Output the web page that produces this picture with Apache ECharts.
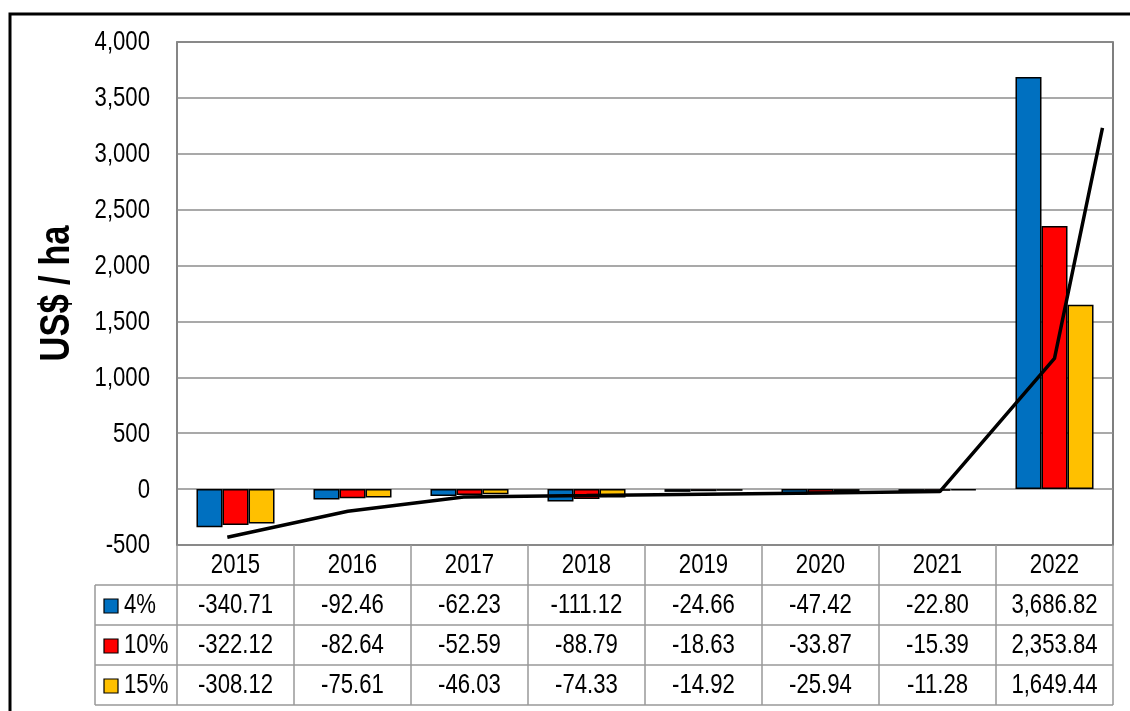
<!DOCTYPE html>
<html>
<head>
<meta charset="utf-8">
<script src="https://cdn.jsdelivr.net/npm/echarts@6/dist/echarts.min.js"></script>
<style>
  html, body { margin: 0; padding: 0; background: #fff; }
  #chart { width: 1130px; height: 711px; }
</style>
</head>
<body>
<div id="chart"></div>
<script>
// categories (years)
const years = ['2015', '2016', '2017', '2018', '2019', '2020', '2021', '2022'];
// series values, US$ / ha
const rate4 = [-340.71, -92.46, -62.23, -111.12, -24.66, -47.42, -22.80, 3686.82];
const rate10 = [-322.12, -82.64, -52.59, -88.79, -18.63, -33.87, -15.39, 2353.84];
const rate15 = [-308.12, -75.61, -46.03, -74.33, -14.92, -25.94, -11.28, 1649.44];
const seriesNames = ['4%', '10%', '15%'];
// y tick values
const yTicks = [-500, 0, 500, 1000, 1500, 2000, 2500, 3000, 3500, 4000];
// black line (x in category units, y in US$/ha)
const lineX = [0.43, 1.46, 2.45, 3.5, 4.5, 5.5, 6.52, 7.5, 7.91];
const lineY = [-431, -198, -70, -58, -46, -34, -22, 1170, 3231];

const colors = ['#0070C0', '#FF0000', '#FFC000'];
// no Arial Narrow available: squeeze Liberation Sans horizontally instead
const font = "'Liberation Sans', Arial, sans-serif";
const narrow = 0.82;
const gridL = 177, gridT = 42, gridR = 1113, gridB = 545;
const rowH = 40;

let chart = echarts.init(document.getElementById('chart'));
const allRates = [rate4, rate10, rate15];

let option = {
  backgroundColor: '#fff',
  animation: false,
  grid: {
    left: gridL, top: gridT, right: 1130 - gridR, bottom: 711 - gridB,
    show: true, borderColor: '#555', borderWidth: 1.5
  },
  xAxis: [
    {
      type: 'category',
      data: years,
      axisLine: { show: false },
      axisTick: { show: false },
      axisLabel: { show: false }
    },
    {
      type: 'value',
      min: 0, max: 8,
      show: false
    }
  ],
  yAxis: {
    type: 'value',
    min: -500, max: 4000, interval: 500,
    axisLine: { show: true, lineStyle: { color: '#888', width: 1.5 } },
    axisTick: { show: false },
    axisLabel: { show: false },
    splitLine: { lineStyle: { color: '#8c8c8c', width: 1.5 } }
  },
  series: allRates.map((d, k) => ({
    name: seriesNames[k],
    type: 'bar',
    data: d,
    barGap: '0%',
    barCategoryGap: '33.3%',
    itemStyle: { color: colors[k], borderColor: '#000', borderWidth: 1.5 }
  })).concat([{
    type: 'line',
    xAxisIndex: 1,
    data: lineX.map((x, i) => [x, lineY[i]]),
    symbol: 'none',
    lineStyle: { color: '#000', width: 3.5 },
    z: 5
  }])
};
chart.setOption(option);

function narrowText(txt, x, y, align, extra) {
  return Object.assign({
    type: 'text', x: x, y: y, scaleX: narrow,
    style: { text: txt, fontFamily: font, fontSize: 27, fill: '#000', align: align, verticalAlign: 'middle' }
  }, extra || {});
}

// tick labels, y title and data table under the plot, built from the arrays above
function buildTable() {
  let g = [];
  const band = (gridR - gridL) / years.length;
  const lineStyle = { stroke: '#999', lineWidth: 1.5 };
  const tableBottom = gridB + rowH * 4;

  yTicks.forEach(v => {
    let py = chart.convertToPixel({ yAxisIndex: 0 }, v);
    g.push(narrowText(v.toLocaleString('en-US'), 150, py + 1, 'right'));
  });
  g.push({
    type: 'text', x: 57, y: (gridT + gridB) / 2, rotation: Math.PI / 2, scaleX: narrow,
    style: { text: 'US$ / ha', fontFamily: font, fontSize: 42, fontWeight: 'bold', fill: '#000',
      align: 'center', verticalAlign: 'middle' }
  });

  // vertical lines at category boundaries
  for (let i = 0; i <= years.length; i++) {
    let x = gridL + band * i;
    g.push({ type: 'line', shape: { x1: x, y1: gridB, x2: x, y2: tableBottom }, style: lineStyle });
  }
  g.push({ type: 'line', shape: { x1: 95, y1: gridB + rowH, x2: 95, y2: tableBottom }, style: lineStyle });
  for (let r = 1; r <= 4; r++) {
    let y = gridB + rowH * r;
    g.push({ type: 'line', shape: { x1: 95, y1: y, x2: gridR, y2: y }, style: lineStyle });
  }
  // header row: years
  years.forEach(yr => {
    let cx = chart.convertToPixel({ xAxisIndex: 0 }, yr);
    g.push(narrowText(yr, cx, gridB + rowH / 2 + 1, 'center'));
  });
  // value rows
  allRates.forEach((d, k) => {
    let cy = gridB + rowH * (k + 1.5) + 1;
    g.push({ type: 'rect', shape: { x: 104, y: cy - 7, width: 14, height: 14 },
      style: { fill: colors[k], stroke: '#000', lineWidth: 1.2 } });
    g.push(narrowText(seriesNames[k], 124, cy, 'left'));
    d.forEach((v, i) => {
      let cx = chart.convertToPixel({ xAxisIndex: 0 }, years[i]);
      let txt = v.toLocaleString('en-US', { minimumFractionDigits: 2, maximumFractionDigits: 2 });
      g.push(narrowText(txt, cx, cy, 'center'));
    });
  });
  // outer chart frame
  g.push({ type: 'rect', shape: { x: 10, y: 14, width: 1300, height: 900 },
    style: { fill: 'none', stroke: '#000', lineWidth: 3 }, z: 100 });
  chart.setOption({ graphic: g });
}
buildTable();
</script>
</body>
</html>
